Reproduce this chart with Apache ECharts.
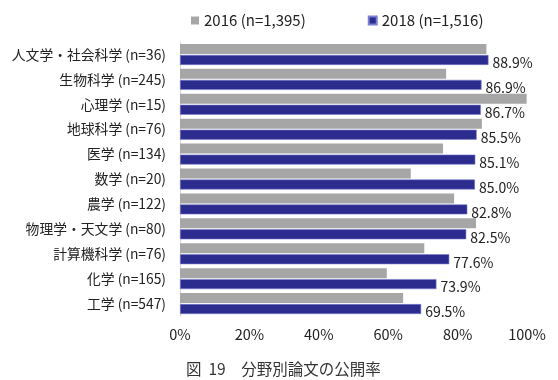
<!DOCTYPE html>
<html lang="ja">
<head>
  <meta charset="utf-8" />
  <title>分野別論文の公開率</title>
  <style>
    html, body { margin: 0; padding: 0; background: #fff; }
    #chart { width: 558px; height: 380px; }
  </style>
</head>
<body>
  <div id="chart"></div>
  <script src="https://cdn.jsdelivr.net/npm/echarts@6/dist/echarts.min.js"></script>
  <script>
    "use strict";

    // 分野名（上から順）
    var fields = [
      '人文学・社会科学 (n=36)', '生物科学 (n=245)', '心理学 (n=15)', '地球科学 (n=76)',
      '医学 (n=134)', '数学 (n=20)', '農学 (n=122)', '物理学・天文学 (n=80)',
      '計算機科学 (n=76)', '化学 (n=165)', '工学 (n=547)'
    ];
    var rate2016 = [88.3, 76.7, 99.9, 87.0, 75.8, 66.5, 79.0, 85.3, 70.4, 59.6, 64.3];
    var rate2018 = [88.9, 86.9, 86.7, 85.5, 85.1, 85.0, 82.8, 82.5, 77.6, 73.9, 69.5];
    var seriesNames = ['2016 (n=1,395)', '2018 (n=1,516)'];
    var xTicks = [0, 20, 40, 60, 80, 100];

    var font = '"Noto Sans CJK JP", "Noto Sans", sans-serif';
    var myChart = echarts.init(document.getElementById('chart'));

    var option = {
      animation: false,
      textStyle: { fontFamily: font },
      legend: {
        top: 8,
        left: 186,
        itemWidth: 8,
        itemHeight: 8,
        itemGap: 62,
        icon: 'rect',
        textStyle: { fontSize: 15, color: '#222', fontFamily: font },
        data: seriesNames
      },
      title: {
        text: '図  19　分野別論文の公開率',
        top: 356,
        left: 181,
        textStyle: { fontSize: 15.5, fontWeight: 'normal', color: '#333', fontFamily: font }
      },
      grid: { left: 180, right: 31, top: 42, bottom: 64, containLabel: false },
      xAxis: {
        type: 'value',
        min: xTicks[0],
        max: xTicks[xTicks.length - 1],
        interval: 20,
        axisLine: { show: false },
        axisTick: { show: false },
        splitLine: { show: false },
        axisLabel: {
          formatter: '{value}%',
          fontSize: 14.5,
          color: '#222',
          margin: 11,
          fontFamily: font
        }
      },
      yAxis: {
        type: 'category',
        inverse: true,
        data: fields,
        axisLine: { show: true, lineStyle: { color: '#d9d9d9', width: 1 } },
        axisTick: { show: false },
        axisLabel: { fontSize: 13.8, color: '#222', margin: 14, fontFamily: font }
      },
      series: [
        {
          name: seriesNames[0],
          type: 'bar',
          data: rate2016,
          barWidth: 10,
          barGap: '10%',
          itemStyle: { color: '#a6a6a6' }
        },
        {
          name: seriesNames[1],
          type: 'bar',
          data: rate2018,
          barWidth: 10,
          barGap: '10%',
          itemStyle: { color: '#2c2b8e', borderColor: '#7b7fd0', borderWidth: 0.6 },
          label: {
            show: true,
            position: 'right',
            offset: [0, 3],
            distance: 4,
            formatter: function (p) { return p.value.toFixed(1) + '%'; },
            fontSize: 14,
            color: '#222',
            fontFamily: font
          }
        }
      ]
    };

    myChart.setOption(option);
  </script>
</body>
</html>
